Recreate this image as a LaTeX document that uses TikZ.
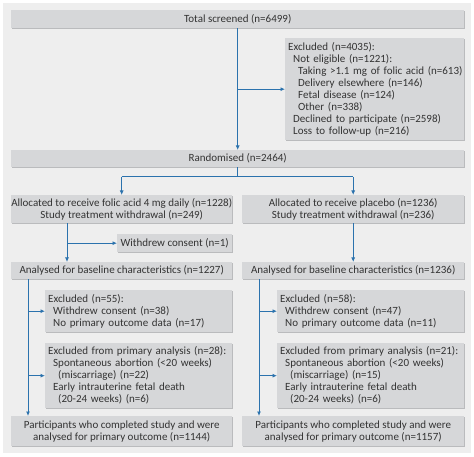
\documentclass[tikz,border=0pt]{standalone}
\usepackage{fontspec}
\setmainfont{Carlito}
\usetikzlibrary{arrows.meta,shadows}
\definecolor{bgc}{HTML}{EEEEEE}
\definecolor{boxc}{HTML}{D6D7D9}
\definecolor{shc}{HTML}{BABBBD}
\definecolor{bluec}{HTML}{2B72AD}
\definecolor{txtc}{HTML}{333333}
\newcommand{\fs}{\fontsize{11}{12}\selectfont}
\newcommand{\ia}{\hspace*{5pt}}
\newcommand{\ib}{\hspace*{10pt}}
\tikzset{
  box/.style={fill=boxc, inner xsep=3pt, inner ysep=0pt, anchor=north west,
    font=\fs, text=txtc,
    drop shadow={shadow xshift=1.2pt, shadow yshift=-1.2pt, fill=shc, opacity=1}},
  cbox/.style={box, inner xsep=0pt, align=center},
  arr/.style={draw=bluec, line width=1pt, -{Latex[length=4.5pt,width=4pt]}},
  ln/.style={draw=bluec, line width=1pt}
}
\begin{document}
\begin{tikzpicture}[x=1pt,y=-1pt]
\useasboundingbox (0,0) rectangle (474,457);
\fill[bgc] (3,3) rectangle (471,453);
% top
\node[cbox, minimum height=18pt, minimum width=453pt] (ts) at (11,10) {Total screened (n=6499)};
\node[box, minimum height=102pt, text width=173pt, align=left] (ex) at (285,38)
 {Excluded (n=4035):\\
  \ia Not eligible (n=1221):\\
  \ib\mbox{Taking >1.1 mg of folic acid (n=613)}\\
  \ib Delivery elsewhere (n=146)\\
  \ib Fetal disease (n=124)\\
  \ib Other (n=338)\\
  \ia Declined to participate (n=2598)\\
  \ia Loss to follow-up (n=216)};
\node[cbox, minimum height=17pt, minimum width=453pt] (rd) at (11,150) {Randomised (n=2464)};
% allocation
\node[cbox, minimum height=28pt, minimum width=221pt] (a1) at (11,195)
 {Allocated to receive folic acid 4 mg daily (n=1228)\\Study treatment withdrawal (n=249)};
\node[cbox, minimum height=28pt, minimum width=222pt] (a2) at (242,195)
 {Allocated to receive placebo (n=1236)\\Study treatment withdrawal (n=236)};
\node[cbox, minimum height=18pt, minimum width=115pt] (wd) at (117,234) {Withdrew consent (n=1)};
\node[cbox, minimum height=17pt, minimum width=221pt] (b1) at (11,262) {Analysed for baseline characteristics (n=1227)};
\node[cbox, minimum height=17pt, minimum width=222pt] (b2) at (242,262) {Analysed for baseline characteristics (n=1236)};
% left exclusions
\node[box, minimum height=42pt, text width=181pt, align=left] (e1) at (45,290)
 {Excluded (n=55):\\
  \ia Withdrew consent (n=38)\\
  \ia No primary outcome data (n=17)};
\node[box, minimum height=65pt, text width=181pt, align=left] (p1) at (45,343)
 {Excluded from primary analysis (n=28):\\
  \ia Spontaneous abortion (<20 weeks)\\
  \ib (miscarriage) (n=22)\\
  \ia Early intrauterine fetal death\\
  \ib (20-24 weeks) (n=6)};
% right exclusions
\node[box, minimum height=42pt, text width=181pt, align=left] (e2) at (277,290)
 {Excluded (n=58):\\
  \ia Withdrew consent (n=47)\\
  \ia No primary outcome data (n=11)};
\node[box, minimum height=65pt, text width=181pt, align=left] (p2) at (277,343)
 {Excluded from primary analysis (n=21):\\
  \ia Spontaneous abortion (<20 weeks)\\
  \ib (miscarriage) (n=15)\\
  \ia Early intrauterine fetal death\\
  \ib (20-24 weeks) (n=6)};
% final
\node[cbox, minimum height=30pt, minimum width=221pt] (f1) at (11,416)
 {Participants who completed study and were\\analysed for primary outcome (n=1144)};
\node[cbox, minimum height=30pt, minimum width=222pt] (f2) at (242,416)
 {Participants who completed study and were\\analysed for primary outcome (n=1157)};
% connectors
\coordinate (cl) at (67,0);
\coordinate (cL) at (28,0);
\coordinate (cR) at (259,0);
\coordinate (hy) at (0,177);
\draw[arr] (ts.south) -- (rd.north);
\draw[arr] (ts.south |- ex.west) -- (ex.west);
\draw[ln] (rd.south) -- (rd.south |- hy);
\draw[arr] (a1.north |- hy) -- (a1.north);
\draw[arr] (a2.north |- hy) -- (a2.north);
\draw[ln] (a1.north |- hy) -- (a2.north |- hy);
\draw[arr] (cl |- a1.south) -- (cl |- b1.north);
\draw[arr] (cl |- wd.west) -- (wd.west);
\draw[arr] (a2.south) -- (b2.north);
\draw[arr] (cL |- b1.south) -- (cL |- f1.north);
\draw[arr] (cL |- e1.west) -- (e1.west);
\draw[arr] (cL |- p1.west) -- (p1.west);
\draw[arr] (cR |- b2.south) -- (cR |- f2.north);
\draw[arr] (cR |- e2.west) -- (e2.west);
\draw[arr] (cR |- p2.west) -- (p2.west);
\end{tikzpicture}
\end{document}
